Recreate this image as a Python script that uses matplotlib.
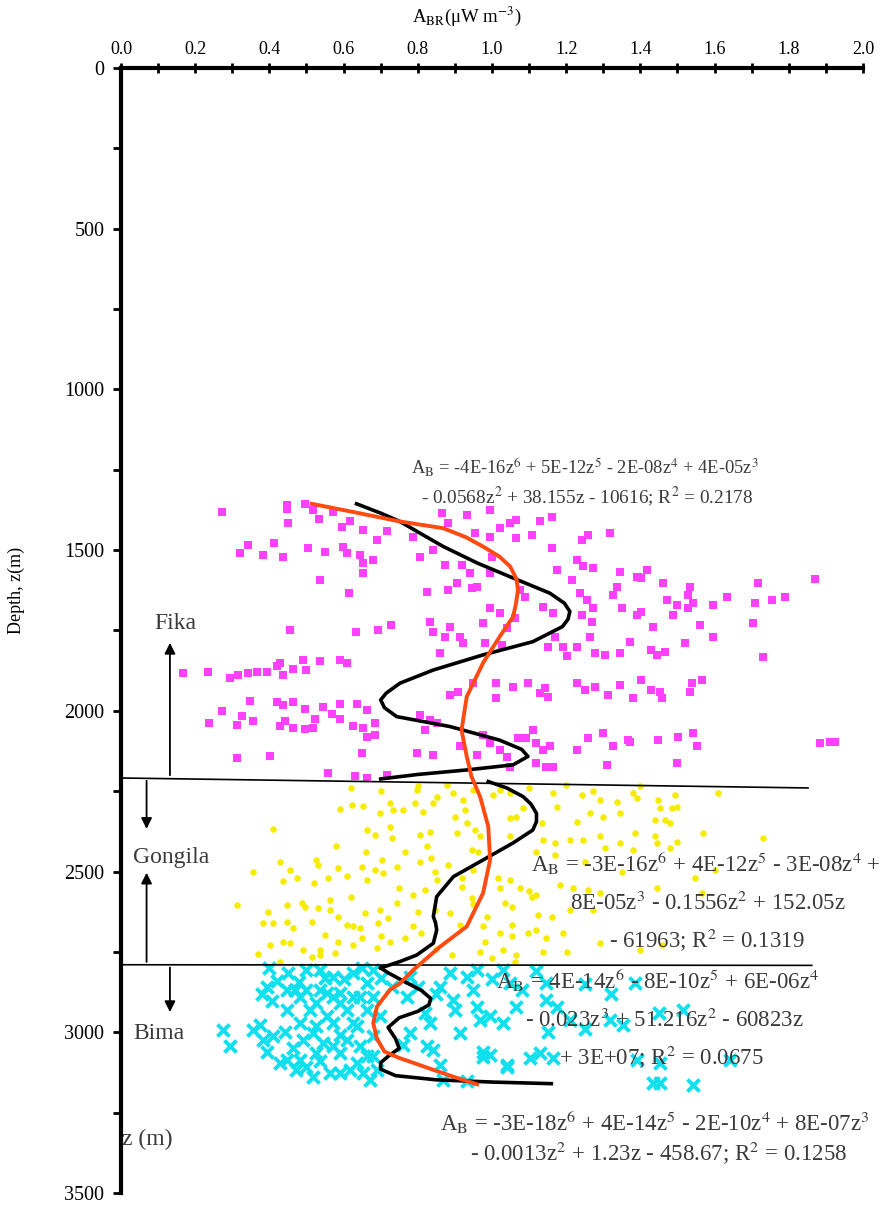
import matplotlib
matplotlib.use("Agg")
import matplotlib.pyplot as plt
from matplotlib.ticker import MultipleLocator

plt.rcParams['font.family'] = ['Liberation Serif', 'DejaVu Serif']
plt.rcParams['mathtext.fontset'] = 'stix'

# Fika (magenta squares): (value, depth)
fika_v = [0.271, 0.447, 0.447, 0.496, 0.451, 0.518, 0.534, 0.572, 0.617, 0.595, 0.653, 0.69, 0.716,
          0.343, 0.321, 0.384, 0.412, 0.437, 0.505, 0.55, 0.599, 0.608, 0.644, 0.653, 0.68, 0.653,
          0.536, 0.615, 0.455, 0.633, 0.693, 0.727,
          0.168, 0.234, 0.294, 0.316, 0.343, 0.366, 0.393, 0.42, 0.428, 0.437, 0.464, 0.491, 0.5,
          0.536, 0.59, 0.608,
          0.348, 0.271, 0.238, 0.312, 0.325, 0.357, 0.42, 0.437, 0.464, 0.442, 0.428, 0.464, 0.496,
          0.518, 0.496, 0.523, 0.545, 0.568, 0.59, 0.59, 0.635, 0.662, 0.626, 0.653, 0.662, 0.684,
          0.684, 0.312, 0.402, 0.65, 0.559, 0.63, 0.662, 0.716,
          0.864, 0.932, 0.995, 1.048, 1.066, 1.129, 1.161, 1.021, 0.788, 0.806, 0.842, 0.873, 0.882,
          0.954, 0.995, 1.066, 1.107, 1.161, 1.242, 1.26, 1.318, 1.228, 1.246, 1.273, 1.345, 1.39,
          1.174, 1.215, 0.918, 0.941, 0.995, 0.999, 0.905, 0.945, 0.959, 0.882, 0.824, 1.075, 1.089,
          1.138, 1.165, 1.237, 1.255, 1.273, 1.242, 1.269, 1.327, 1.336, 1.35, 1.39, 0.995, 1.021,
          1.062, 0.977, 1.04, 0.833, 0.842, 0.873, 0.887, 0.914, 0.923, 0.86, 0.981, 1.026, 1.152,
          1.17, 1.192, 1.201, 1.228, 1.264, 1.278, 1.305, 1.345, 1.372,
          0.887, 0.909, 0.95, 1.012, 1.012, 1.057, 1.098, 1.129, 1.143, 1.152, 1.228, 1.251, 1.278,
          1.314, 1.345, 1.381, 0.806, 0.833, 0.851, 0.819, 0.797, 0.842, 0.914, 0.959, 0.977, 0.995,
          1.021, 1.04, 1.071, 1.093, 1.111, 1.12, 1.138, 1.156, 1.147, 1.12, 1.228, 1.26, 1.3, 1.327,
          1.309, 1.367, 1.165, 1.048,
          1.394, 1.417, 1.403, 1.462, 1.534, 1.471, 1.498, 1.529, 1.543, 1.529, 1.489, 1.39, 1.403,
          1.597, 1.633, 1.718, 1.709, 1.754, 1.79, 1.871, 1.704, 1.435, 1.561, 1.597, 1.52, 1.43,
          1.444, 1.466, 1.372, 1.731, 1.403, 1.43, 1.453, 1.381, 1.457, 1.538, 1.565, 1.534, 1.372,
          1.448, 1.502, 1.543, 1.552, 1.498, 1.884, 1.911, 1.925]
fika_z = [1383, 1360, 1372, 1357, 1417, 1375, 1402, 1380, 1408, 1428, 1437, 1468, 1441,
          1484, 1510, 1515, 1479, 1520, 1495, 1505, 1490, 1510, 1515, 1541, 1531, 1572,
          1594, 1635, 1749, 1754, 1749, 1733,
          1881, 1878, 1899, 1888, 1881, 1878, 1878, 1862, 1852, 1888, 1871, 1841, 1872,
          1846, 1843, 1852,
          1970, 2001, 2039, 2043, 2015, 2031, 1973, 1983, 1973, 2031, 2046, 2054, 2057,
          2054, 1994, 2025, 1989, 2010, 1978, 2025, 1978, 1999, 2046, 2054, 2080, 2075,
          2038, 2147, 2142, 2132, 2194, 2204, 2210, 2199,
          1386, 1391, 1375, 1417, 1406, 1411, 1396, 1432, 1458, 1520, 1500, 1546, 1417,
          1448, 1458, 1463, 1453, 1494, 1469, 1453, 1448, 1531, 1551, 1557, 1567, 1583,
          1562, 1593, 1546, 1572, 1572, 1520, 1603, 1619, 1614, 1624, 1629, 1624, 1645,
          1676, 1697, 1634, 1655, 1681, 1702, 1723, 1640, 1614, 1681, 1702, 1681, 1697,
          1712, 1728, 1743, 1723, 1754, 1769, 1738, 1769, 1790, 1821, 1790, 1795, 1800,
          1769, 1800, 1831, 1800, 1769, 1821, 1826, 1821, 1785,
          1951, 1940, 1912, 1914, 1961, 1925, 1914, 1946, 1930, 1956, 1914, 1935, 1925,
          1951, 1920, 1961, 2013, 2029, 2039, 2060, 2132, 2137, 2111, 2137, 2075, 2101,
          2122, 2143, 2086, 2086, 2060, 2101, 2122, 2111, 2174, 2163, 2122, 2086, 2070, 2111,
          2168, 2091, 2174, 2174,
          1583, 1562, 1588, 1603, 1614, 1655, 1671, 1640, 1666, 1681, 1702, 1702, 1692,
          1671, 1645, 1603, 1666, 1655, 1645, 1591, 1728, 1738, 1733, 1769, 1790, 1811,
          1826, 1816, 1785, 1832, 1904, 1935, 1940, 1961, 1961, 1912, 1904, 1940, 2096,
          2091, 2080, 2068, 2111, 2163, 2101, 2098, 2098]

# Gongila (yellow dots)
gongila_v = [0.59, 0.622, 0.653, 0.698, 0.725, 0.734, 0.41, 0.662, 0.685, 0.725, 0.73,
             0.429, 0.357, 0.456, 0.438, 0.474, 0.527, 0.532, 0.519, 0.559, 0.586, 0.608, 0.649,
             0.662, 0.685, 0.703, 0.707, 0.743, 0.312, 0.397, 0.447, 0.487, 0.496, 0.532, 0.563,
             0.563, 0.586, 0.658, 0.698, 0.743, 0.384, 0.411, 0.447, 0.465, 0.514, 0.608, 0.626,
             0.644, 0.694, 0.721, 0.402, 0.438, 0.456, 0.492, 0.536, 0.55, 0.586, 0.626, 0.649,
             0.689, 0.725, 0.37, 0.514, 0.536, 0.577, 0.429,
             0.797, 0.851, 0.896, 0.923, 0.792, 0.761, 0.815, 0.842, 0.927, 0.9, 0.932, 1.004,
             1.021, 1.048, 1.084, 1.048, 1.066, 1.134, 1.165, 1.174, 1.242, 1.273, 1.291, 1.336,
             1.381, 1.264, 1.3, 1.345, 1.228, 0.806, 0.833, 0.905, 0.954, 0.968, 1.048, 1.138,
             1.17, 1.21, 1.246, 1.291, 1.305, 1.345, 1.381, 0.765, 0.824, 0.806, 0.837, 0.882,
             0.945, 0.963, 1.12, 1.17, 0.846, 0.851, 0.918, 0.95, 1.017, 1.048, 1.075, 1.021,
             1.183, 1.219, 0.788, 0.819, 0.918, 0.945, 1.035, 1.053, 1.107, 1.12, 1.26, 1.291,
             1.21, 1.273, 0.801, 0.846, 0.887, 0.986, 1.125, 1.161, 0.788, 0.914, 0.977, 1.053,
             1.098, 1.12, 1.021, 1.192, 0.765, 0.81, 0.981, 1.053, 1.147, 1.291, 0.891, 0.968,
             1.03, 1.066, 1.138, 1.201, 1.062,
             1.39, 1.448, 1.493, 1.61, 1.453, 1.484, 1.439, 1.466, 1.48, 1.385, 1.439, 1.444,
             1.498, 1.57, 1.731, 1.48, 1.547, 1.444, 1.565, 1.601, 1.399, 1.457,
             0.62, 0.70, 0.80, 0.88, 0.95, 1.10, 1.20, 1.40, 1.50, 0.58, 0.66, 0.75, 0.62, 0.70,
             0.85, 1.10, 1.25, 1.35, 0.95, 1.00]
gongila_z = [2306, 2293, 2296, 2319, 2288, 2308, 2369, 2371, 2386, 2360, 2397,
             2469, 2500, 2495, 2531, 2521, 2464, 2480, 2537, 2521, 2490, 2514, 2485,
             2526, 2495, 2464, 2506, 2485, 2604, 2625, 2604, 2599, 2609, 2614, 2588,
             2620, 2640, 2630, 2620, 2599, 2661, 2661, 2656, 2677, 2656, 2666, 2671,
             2677, 2661, 2645, 2728, 2718, 2723, 2744, 2744, 2697, 2718, 2728, 2708,
             2739, 2718, 2756, 2765, 2760, 2754, 2780,
             2246, 2267, 2257, 2277, 2288, 2308, 2314, 2288, 2308, 2329, 2350, 2262,
             2246, 2257, 2303, 2334, 2329, 2350, 2257, 2298, 2262, 2251, 2277, 2283,
             2257, 2319, 2329, 2319, 2345, 2386, 2376, 2381, 2371, 2391, 2391, 2402,
             2412, 2402, 2402, 2391, 2428, 2412, 2433, 2438, 2422, 2469, 2459, 2480,
             2433, 2438, 2438, 2448, 2500, 2526, 2521, 2495, 2521, 2526, 2552, 2552,
             2542, 2552, 2573, 2557, 2547, 2583, 2599, 2609, 2578, 2573, 2557, 2568,
             2620, 2620, 2625, 2620, 2630, 2640, 2635, 2640, 2671, 2666, 2671, 2666,
             2692, 2682, 2692, 2692, 2708, 2692, 2718, 2702, 2708, 2723, 2760, 2749,
             2744, 2760, 2749, 2749, 2780,
             2272, 2277, 2262, 2255, 2303, 2303, 2340, 2340, 2350, 2381, 2391, 2412,
             2407, 2379, 2397, 2428, 2521, 2552, 2568, 2495, 2744, 2728,
             2240, 2250, 2235, 2230, 2245, 2240, 2230, 2235, 2300, 2420, 2440, 2550, 2580, 2700,
             2740, 2560, 2470, 2500, 2600, 2770]

# Bima (cyan crosses)
bima_v = [0.393, 0.469, 0.276, 0.294, 0.375, 0.384, 0.393, 0.406, 0.442, 0.465, 0.447, 0.473,
          0.491, 0.5, 0.527, 0.527, 0.518, 0.545, 0.536, 0.563, 0.572, 0.59, 0.59, 0.608,
          0.617, 0.635, 0.644, 0.653, 0.671, 0.662, 0.68, 0.626, 0.572, 0.469, 0.662,
          0.77, 0.896, 0.959, 0.995, 0.968, 1.03, 1.066, 1.147, 1.174, 0.833, 0.779, 0.914,
          0.761, 0.824, 0.842, 0.977, 0.995, 1.04, 1.102, 1.129, 1.165, 0.869, 0.932, 0.86,
          1.21, 1.318, 1.354, 1.516, 1.39, 1.453, 1.642, 1.435, 1.453, 1.543, 1.04, 0.977,
          0.779, 0.887, 0.932, 0.959, 1.03, 1.048, 1.147, 0.86,
          0.536, 0.572, 0.626, 0.662, 0.536, 0.59, 0.644, 0.68,
          1.25, 1.32, 1.385, 1.45,
          0.483, 0.509, 0.554, 0.59, 0.447, 0.626, 0.608, 0.572, 0.527, 0.483, 0.518, 0.59,
          0.635, 0.68, 0.689, 0.429, 0.41, 0.357, 0.483, 0.554, 0.68, 0.698, 0.447, 0.5,
          0.40, 0.45, 0.50, 0.55, 0.48, 0.60, 0.65, 0.70, 0.73, 0.42, 0.38,
          0.80, 0.85, 0.95, 1.00, 1.08, 1.12, 0.90, 0.82, 1.25, 1.15]
bima_z = [2858, 2868, 2992, 3044, 2977, 3024, 3060, 2904, 2998, 3049, 3086, 3117,
          3024, 3107, 2909, 2982, 3003, 3034, 3091, 3127, 2972, 3008, 3065, 2930,
          3117, 2982, 3044, 3127, 3148, 3075, 3013, 2889, 2889, 2868, 2930,
          2889, 2899, 2920, 2951, 2961, 2972, 2920, 2899, 2920, 2972, 3003, 3003,
          3039, 3044, 3055, 3060, 3070, 3101, 3081, 3065, 3081, 3148, 3153, 3101,
          2962, 2962, 2978, 2931, 3087, 3097, 3087, 3159, 3159, 3164, 3107, 3076,
          2827, 2817, 2827, 2806, 2806, 2848, 2848, 2858,
          2806, 2827, 2817, 2848, 2868, 2879, 2889, 2806,
          2850, 2880, 2848, 2940,
          2972, 2930, 2951, 2909, 2930, 2972, 3024, 3044, 3065, 3086, 3138, 3127,
          3096, 3075, 3117, 3096, 3013, 2992, 2889, 2878, 2889, 2951, 2868, 2868,
          2800, 2815, 2805, 2830, 2845, 2835, 2800, 2830, 2860, 2840, 2880,
          2860, 2880, 2870, 2835, 2870, 2810, 2930, 2940, 2990, 3000]

# fitted curves: depth, value
fika_fit_z = [1356, 1385, 1411, 1450, 1489, 1540, 1583, 1634, 1665, 1691, 1715, 1738, 1785, 1826,
              1873, 1914, 1945, 1966, 1990, 2018, 2049, 2091, 2120, 2142, 2168, 2184, 2198, 2212]
fika_fit_v = [0.635, 0.70, 0.752, 0.81, 0.869, 0.96, 1.049, 1.156, 1.195, 1.21, 1.205, 1.19, 1.11,
              0.976, 0.842, 0.752, 0.715, 0.70, 0.71, 0.743, 0.887, 1.02, 1.08, 1.097, 1.057,
              0.932, 0.80, 0.70]
gongila_fit_z = [2220, 2240, 2267, 2290, 2319, 2345, 2371, 2411, 2464, 2516, 2578, 2640, 2660,
                 2682, 2705, 2723, 2760, 2780, 2800]
gongila_fit_v = [0.99, 1.04, 1.084, 1.105, 1.12, 1.12, 1.11, 1.057, 0.976, 0.896, 0.851, 0.842,
                 0.848, 0.851, 0.846, 0.842, 0.797, 0.752, 0.70]
bima_fit_z = [2800, 2815, 2840, 2870, 2895, 2915, 2935, 2955, 2985, 3020, 3050, 3075, 3095,
              3115, 3135, 3148, 3155, 3160]
bima_fit_v = [0.70, 0.72, 0.76, 0.81, 0.835, 0.83, 0.80, 0.75, 0.72, 0.74, 0.75, 0.72, 0.70,
              0.70, 0.74, 0.85, 1.0, 1.16]
all_fit_z = [1356, 1380, 1411, 1432, 1460, 1489, 1520, 1551, 1590, 1624, 1665, 1707, 1769, 1851,
             1956, 2060, 2142, 2205, 2267, 2360, 2464, 2567, 2671, 2734, 2806, 2848, 2868, 2920,
             2972, 3020, 3060, 3080, 3100, 3117, 3140, 3162]
all_fit_v = [0.514, 0.62, 0.752, 0.869, 0.93, 0.976, 1.02, 1.049, 1.066, 1.07, 1.065, 1.057,
             1.021, 0.976, 0.932, 0.918, 0.932, 0.945, 0.968, 0.99, 0.995, 0.976, 0.932, 0.86,
             0.788, 0.752, 0.725, 0.69, 0.68, 0.69, 0.71, 0.75, 0.80, 0.842, 0.90, 0.96]

fig = plt.figure(figsize=(8.83, 12.05), dpi=100)
ax = fig.add_axes([0.137, 0.01, 0.8403, 0.9336])

ax.scatter(fika_v, fika_z, marker='s', s=26, color='#ff40ff', linewidths=0, zorder=2)
ax.scatter(gongila_v, gongila_z, marker='o', s=22, color='#f5ec00', linewidths=0, zorder=2)
ax.scatter(bima_v, bima_z, marker='x', s=75, color='#10e0ee', linewidths=2.8, zorder=2)

ax.plot(fika_fit_v, fika_fit_z, color='black', lw=2.6, zorder=4)
ax.plot(gongila_fit_v, gongila_fit_z, color='black', lw=2.6, zorder=4)
ax.plot(bima_fit_v, bima_fit_z, color='black', lw=2.6, zorder=4)
ax.plot(all_fit_v, all_fit_z, color='#ff4a12', lw=2.8, zorder=5)

# formation boundaries
ax.plot([0, 1.852], [2209, 2240], color='black', lw=1.2, zorder=3)
ax.plot([0, 1.862], [2790, 2792], color='black', lw=1.2, zorder=3)

arrow = dict(arrowstyle='-|>', color='black', lw=1.3, mutation_scale=16)
ax.annotate('', xy=(0.132, 1780), xytext=(0.132, 2209), arrowprops=arrow)
ax.annotate('', xy=(0.069, 2376), xytext=(0.069, 2209), arrowprops=arrow)
ax.annotate('', xy=(0.069, 2495), xytext=(0.069, 2790), arrowprops=arrow)
ax.annotate('', xy=(0.132, 2946), xytext=(0.132, 2790), arrowprops=arrow)

tc = '#3a3a3a'
ax.text(0.146, 1727, 'Fika', fontsize=17, color=tc, ha='center', va='center')
ax.text(0.135, 2455, 'Gongila', fontsize=17, color=tc, ha='center', va='center')
ax.text(0.102, 3003, 'Bima', fontsize=17, color=tc, ha='center', va='center')
ax.text(0.004, 3335, 'z (m)', fontsize=17, color=tc, ha='left', va='center')

eq = dict(color=tc, ha='center', va='center', zorder=3)
ax.text(1.25, 1244, r'A$_\mathrm{B}$ = -4E-16z$^6$ + 5E-12z$^5$ - 2E-08z$^4$ + 4E-05z$^3$',
        fontsize=13.3, **eq)
ax.text(1.257, 1335, r'- 0.0568z$^2$ + 38.155z - 10616; R$^2$ = 0.2178', fontsize=13.9, **eq)
ax.text(1.576, 2473, r'A$_\mathrm{B}$ = -3E-16z$^6$ + 4E-12z$^5$ - 3E-08z$^4$ +', fontsize=16.5, **eq)
ax.text(1.582, 2598, r'8E-05z$^3$ - 0.1556z$^2$ + 152.05z', fontsize=16.5, **eq)
ax.text(1.58, 2713, r'- 61963; R$^2$ = 0.1319', fontsize=16.5, **eq)
ax.text(1.447, 2837, r'A$_\mathrm{B}$ = 4E-14z$^6$ - 8E-10z$^5$ + 6E-06z$^4$', fontsize=16.5, **eq)
ax.text(1.466, 2962, r'- 0.023z$^3$ + 51.216z$^2$ - 60823z', fontsize=16.5, **eq)
ax.text(1.458, 3077, r'+ 3E+07; R$^2$ = 0.0675', fontsize=16.5, **eq)
ax.text(1.44, 3279, r'A$_\mathrm{B}$ = -3E-18z$^6$ + 4E-14z$^5$ - 2E-10z$^4$ + 8E-07z$^3$',
        fontsize=16.5, **eq)
ax.text(1.45, 3375, r'- 0.0013z$^2$ + 1.23z - 458.67; R$^2$ = 0.1258', fontsize=16.5, **eq)

ax.set_xlim(0, 2.0)
ax.set_ylim(3500, 0)
ax.xaxis.tick_top()
ax.xaxis.set_major_locator(MultipleLocator(0.2))
ax.xaxis.set_minor_locator(MultipleLocator(0.1))
ax.yaxis.set_major_locator(MultipleLocator(500))
ax.yaxis.set_minor_locator(MultipleLocator(250))
ax.xaxis.set_major_formatter(matplotlib.ticker.FormatStrFormatter('%.1f'))
ax.tick_params(axis='x', which='both', direction='inout', length=7, width=2, labelsize=13, pad=4)
ax.tick_params(axis='y', which='both', direction='out', length=6, width=2, labelsize=14.5, pad=6)
for s in ['right', 'bottom']:
    ax.spines[s].set_visible(False)
for s in ['left', 'top']:
    ax.spines[s].set_linewidth(3)

fig.text(467 / 883, 1 - 16 / 1205, 'A$_\\mathrm{BR}$(μW m$^{-3}$)', fontsize=13.5,
         ha='center', va='center')
fig.text(0.018, 0.51, 'Depth, z(m)', rotation=90, fontsize=13, ha='center', va='center')

fig.savefig('out.png', dpi=100)
